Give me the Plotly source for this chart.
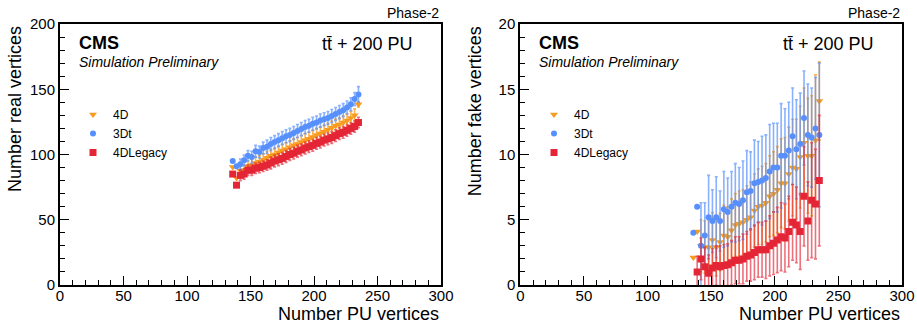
import plotly.graph_objects as go

# ---------------- data ----------------
x_pu = [136, 139, 142, 145, 148, 151, 154, 157, 160, 163, 166, 169, 172, 175, 178, 181, 184,
        187, 190, 193, 196, 199, 202, 205, 208, 211, 214, 217, 220, 223, 226, 229, 232, 235]
x_pu_legacy_fake = [139, 142, 145, 148, 151, 154, 157, 160, 163, 166, 169, 172, 175, 178, 181, 184,
                    187, 190, 193, 196, 199, 202, 205, 208, 211, 214, 217, 220, 223, 226, 229, 232, 235]

real_4d = [90.5, 82, 87.5, 88, 91, 92, 93.5, 94.5, 96, 97.5, 99, 100, 101.5, 103, 104, 105.5, 107,
           108, 109.5, 111, 112, 113.5, 115, 116, 117.5, 119, 120.5, 122, 123, 124.5, 126, 128, 130, 138.5]
real_4d_err = [0, 0, 4, 4, 4, 4.5, 4.5, 4.5, 4.5, 5, 5, 5, 5, 5, 5, 5, 5,
               5, 5, 5, 5, 5, 5, 5, 5, 5, 5, 5, 5, 5, 5, 5, 5, 2]
real_3dt = [95, 91, 92.5, 95.5, 99, 98, 102.5, 102, 105, 106, 108, 109.5, 111, 112.5, 114, 115, 116.5,
            118, 119.5, 121, 122, 123.5, 124.5, 126, 127, 128, 129.5, 131, 132.5, 134, 136, 138.5, 142.5, 146]
real_3dt_err = [0, 0, 4, 4, 4, 4.5, 4.5, 4.5, 4.5, 5, 5, 5, 5, 5, 5, 5, 5,
                5, 5, 5, 5, 5, 5, 5, 5, 5, 5, 5, 5, 5, 5, 5, 5, 6]
real_leg = [85, 76.5, 84, 85, 88, 88, 89.5, 90, 91, 92, 93.5, 95, 96, 97, 98.5, 100, 101,
            102.5, 103.5, 105, 106, 107, 108.5, 109.5, 111, 112, 113, 114.5, 116, 117, 118.5, 120, 121.5, 124.5]
real_leg_err = [0, 0, 4, 4, 4, 4, 4, 4, 4, 4, 4.5, 4.5, 4.5, 4.5, 4.5, 4.5, 4.5,
                4.5, 4.5, 4.5, 4.5, 4.5, 4.5, 4.5, 4.5, 4.5, 4.5, 4.5, 4.5, 4.5, 4.5, 4.5, 4.5, 4]

fake_4d = [2.1, 4.1, 3.0, 2.9, 2.9, 3.45, 2.9, 3.3, 3.8, 3.7, 4.2, 4.6, 4.7, 4.8, 5.0, 5.2, 5.7,
           6.0, 6.1, 6.3, 6.8, 7.0, 7.3, 7.8, 7.8, 8.5, 9.0, 8.9, 9.8, 10.9, 9.9, 9.9, 11.1, 14.1]
fake_4d_err = [0, 0, 2.0, 2.0, 2.1, 2.1, 2.2, 2.2, 2.3, 2.3, 2.4, 2.4, 2.5, 2.5, 2.6, 2.7, 2.8,
               2.9, 3.0, 3.0, 3.1, 3.2, 3.3, 3.4, 3.5, 3.6, 3.7, 3.8, 3.9, 4.2, 4.4, 4.6, 5.0, 3.0]
fake_3dt = [4.0, 6.0, 3.0, 3.8, 5.2, 4.9, 5.2, 4.9, 5.8, 5.6, 6.0, 6.3, 6.2, 6.5, 7.1, 7.2, 7.8,
            7.9, 8.0, 8.2, 8.7, 9.0, 9.0, 9.9, 9.9, 10.3, 11.4, 10.4, 10.8, 12.8, 11.5, 11.3, 12.0, 11.5]
fake_3dt_err = [0, 0, 3.3, 2.5, 3.2, 2.4, 3.1, 2.3, 2.9, 2.6, 2.7, 3.0, 2.8, 3.0, 3.2, 3.0, 3.3,
                3.1, 3.4, 3.3, 3.6, 3.4, 3.4, 4.0, 3.6, 3.7, 3.7, 3.8, 3.9, 3.6, 3.9, 3.8, 3.9, 5.5]
fake_leg = [1.0, 2.0, 1.4, 0.9, 1.3, 1.5, 1.4, 1.5, 1.55, 1.7, 1.9, 1.9, 2.0, 2.2, 2.3, 2.5,
            2.7, 2.7, 2.7, 3.0, 3.2, 3.45, 3.7, 3.6, 4.1, 4.8, 4.6, 4.1, 6.8, 4.9, 6.5, 6.2, 8.0]
fake_leg_err = [1.2, 1.6, 1.5, 1.4, 1.5, 1.5, 1.6, 1.6, 1.6, 1.7, 1.8, 1.8, 1.9, 1.9, 2.0, 2.1,
                2.1, 2.1, 2.2, 2.3, 2.4, 2.5, 2.6, 2.6, 2.7, 2.9, 2.9, 2.9, 3.8, 3.0, 4.4, 4.2, 5.0]

series_names = ["4D", "3Dt", "4DLegacy"]
x_tick_vals = [0, 50, 100, 150, 200, 250, 300]
real_tick_vals = [0, 50, 100, 150, 200]
fake_tick_vals = [0, 5, 10, 15, 20]

# ---------------- style ----------------
FONT = "Liberation Sans, Arial, Helvetica, sans-serif"
COLORS = {"4D": "#f89c20", "3Dt": "#5790fc", "4DLegacy": "#e42536"}
BAR_COLORS = {"4D": "rgba(248,156,32,0.75)", "3Dt": "rgba(87,144,252,0.7)",
              "4DLegacy": "rgba(228,37,54,0.65)"}
SYMBOLS = {"4D": "triangle-down", "3Dt": "circle", "4DLegacy": "square"}
SIZES = {"4D": 7, "3Dt": 6, "4DLegacy": 7}

W, H = 917, 324
fig = go.Figure()


def add_series(name, x, y, err, xa, ya, legend):
    fig.add_trace(go.Scatter(
        x=x, y=y, mode="markers", name=name,
        xaxis=xa, yaxis=ya, legend=legend,
        marker=dict(symbol=SYMBOLS[name], size=SIZES[name], color=COLORS[name], line=dict(width=0)),
        error_y=dict(type="data", array=err, visible=True, color=BAR_COLORS[name],
                     thickness=1.6, width=1.5),
    ))


add_series("4D", x_pu, real_4d, real_4d_err, "x", "y", "legend")
add_series("3Dt", x_pu, real_3dt, real_3dt_err, "x", "y", "legend")
add_series("4DLegacy", x_pu, real_leg, real_leg_err, "x", "y", "legend")
add_series("4D", x_pu, fake_4d, fake_4d_err, "x2", "y2", "legend2")
add_series("3Dt", x_pu, fake_3dt, fake_3dt_err, "x2", "y2", "legend2")
add_series("4DLegacy", x_pu_legacy_fake, fake_leg, fake_leg_err, "x2", "y2", "legend2")

# plot frames in pixels
L1, R1 = 60, 441
L2, R2 = 520.3, 902
TOP, BOT = 24, 285


def px_x(p):
    return p / W


def px_y(p):
    return 1 - p / H


def xaxis_cfg(l, r, anchor):
    return dict(
        domain=[px_x(l), px_x(r)], anchor=anchor, range=[0, 300], automargin=False,
        tickvals=x_tick_vals, ticks="inside", ticklen=9, tickwidth=1, tickcolor="black",
        ticklabelstandoff=-4,
        minor=dict(ticks="inside", ticklen=5, dtick=10, tickwidth=1, tickcolor="black", showgrid=False),
        showline=True, linewidth=2, linecolor="black", mirror=True,
        showgrid=False, zeroline=False,
        tickfont=dict(family=FONT, size=15, color="black"),
    )


def yaxis_cfg(rng, vals, anchor, minor_dtick):
    return dict(
        domain=[px_y(BOT), px_y(TOP)], anchor=anchor, range=rng, automargin=False,
        tickvals=vals, ticks="inside", ticklen=9, tickwidth=1, tickcolor="black",
        minor=dict(ticks="inside", ticklen=5, dtick=minor_dtick, tickwidth=1, tickcolor="black", showgrid=False),
        showline=True, linewidth=2, linecolor="black", mirror=True,
        showgrid=False, zeroline=False,
        tickfont=dict(family=FONT, size=15, color="black"),
    )


legend_common = dict(
    font=dict(family=FONT, size=12, color="black"), bgcolor="rgba(0,0,0,0)",
    borderwidth=0, xanchor="left", yanchor="top", tracegroupgap=0, itemwidth=30,
)

fig.update_layout(
    template="none",
    width=W, height=H, margin=dict(l=0, r=0, t=0, b=0, autoexpand=False),
    paper_bgcolor="white", plot_bgcolor="white",
    font=dict(family=FONT, color="black"),
    xaxis=xaxis_cfg(L1, R1, "y"),
    yaxis=yaxis_cfg([0, 200], real_tick_vals, "x", 10),
    xaxis2=xaxis_cfg(L2, R2, "y2"),
    yaxis2=yaxis_cfg([0, 20], fake_tick_vals, "x2", 1),
    legend=dict(x=px_x(73), y=px_y(100), **legend_common),
    legend2=dict(x=px_x(534), y=px_y(100), **legend_common),
)

ann = []
for (l, r, ytitle) in [(L1, R1, "Number real vertices"), (L2, R2, "Number fake vertices")]:
    ann.append(dict(text="Phase-2", x=px_x(r), y=px_y(13), xanchor="right", yanchor="middle",
                    font=dict(family=FONT, size=14)))
    ann.append(dict(text="<b>CMS</b>", x=px_x(l + 17), y=px_y(43), xanchor="left", yanchor="middle",
                    font=dict(family=FONT, size=18)))
    ann.append(dict(text="<i>Simulation Preliminary</i>", x=px_x(l + 17), y=px_y(62), xanchor="left",
                    yanchor="middle", font=dict(family=FONT, size=14)))
    ann.append(dict(text="tt\u0304 + 200 PU", x=px_x(r - 26), y=px_y(44), xanchor="right", yanchor="middle",
                    font=dict(family=FONT, size=18)))
    ann.append(dict(text="Number PU vertices", x=px_x(r), y=px_y(314), xanchor="right", yanchor="middle",
                    font=dict(family=FONT, size=18)))
    ann.append(dict(text=ytitle, x=px_x(l - 45), y=px_y(TOP), xanchor="center", yanchor="top",
                    textangle=-90, font=dict(family=FONT, size=18)))
for a in ann:
    a.update(xref="paper", yref="paper", showarrow=False)
fig.update_layout(annotations=ann)

fig.write_html("out.html", config={"displayModeBar": False},
               post_script="document.body.style.margin='0px';")
